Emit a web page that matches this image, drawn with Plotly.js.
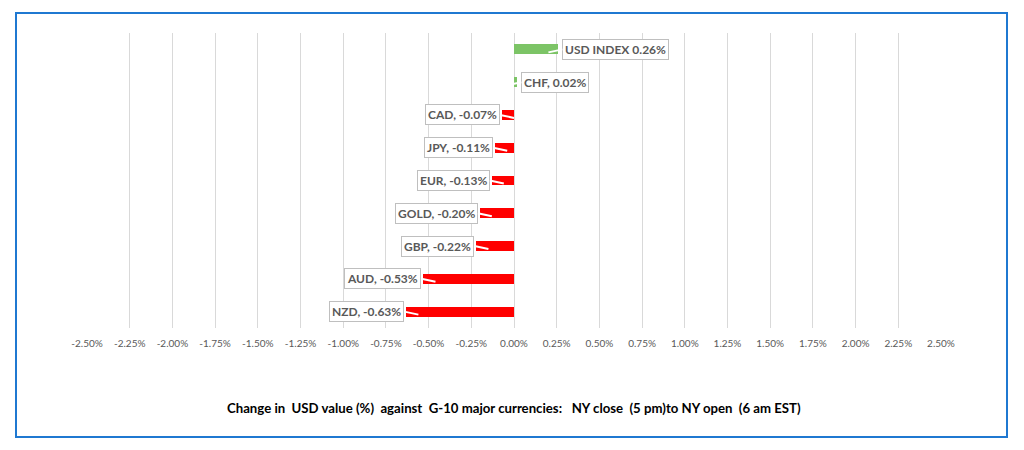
<!DOCTYPE html>
<html>
<head>
<meta charset="utf-8">
<script src="https://cdn.plot.ly/plotly-3.0.1.min.js"></script>
<style>
  html, body { margin: 0; padding: 0; background: #ffffff; }
  #wrap { position: relative; width: 1024px; height: 450px; }
  #chart { position: absolute; left: 0; top: 0; width: 1024px; height: 450px; }
  #frame { position: absolute; left: 15px; top: 12px; width: 989px; height: 422px;
           border: 2px solid #1f78d1; pointer-events: none; }
</style>
</head>
<body>
<div id="wrap">
  <div id="chart"></div>
  <div id="frame"></div>
</div>
<script>
// Data (values in %)
const categories = ["USD INDEX", "CHF", "CAD", "JPY", "EUR", "GOLD", "GBP", "AUD", "NZD"];
const changes = [0.26, 0.02, -0.07, -0.11, -0.13, -0.20, -0.22, -0.53, -0.63];
const labelTexts = ["USD INDEX 0.26%", "CHF, 0.02%", "CAD, -0.07%", "JPY, -0.11%", "EUR, -0.13%",
                    "GOLD, -0.20%", "GBP, -0.22%", "AUD, -0.53%", "NZD, -0.63%"];
const tickValues = [-2.5, -2.25, -2.0, -1.75, -1.5, -1.25, -1.0, -0.75, -0.5, -0.25, 0, 0.25, 0.5, 0.75, 1.0, 1.25, 1.5, 1.75, 2.0, 2.25, 2.5];
const tickLabels = ["-2.50%", "-2.25%", "-2.00%", "-1.75%", "-1.50%", "-1.25%", "-1.00%", "-0.75%", "-0.50%", "-0.25%", "0.00%",
                    "0.25%", "0.50%", "0.75%", "1.00%", "1.25%", "1.50%", "1.75%", "2.00%", "2.25%", "2.50%"];
const chartTitle = "Change in\u00a0 USD value (%)\u00a0 against\u00a0 G-10 major currencies:\u00a0\u00a0 NY close\u00a0 (5 pm)to NY open\u00a0 (6 am EST)";

const POS = "#7cc466", NEG = "#ff0000";
const barColors = changes.map(v => v >= 0 ? POS : NEG);

const trace = {
  type: "bar",
  orientation: "h",
  x: changes,
  y: categories,
  width: 0.3,
  marker: { color: barColors, line: { width: 0 } },
  hoverinfo: "skip"
};

const labelFont = { family: "Lato, 'Liberation Sans', sans-serif", size: 12, color: "#595959", weight: 700 };

const annotations = changes.map((v, i) => {
  const neg = v < 0;
  return {
    x: v, y: categories[i], xref: "x", yref: "y",
    text: "<b>" + labelTexts[i] + "</b>",
    font: labelFont,
    showarrow: true,
    arrowhead: 0,
    arrowwidth: 2,
    arrowcolor: "#ffffff",
    ax: neg ? -14 : 14,
    ay: -3,
    xshift: neg ? 12 : -10,
    yshift: -3,
    xanchor: neg ? "right" : "left",
    yanchor: "middle",
    bgcolor: "#ffffff",
    bordercolor: "#bfbfbf",
    borderwidth: 1,
    borderpad: 2
  };
});

annotations.push({
  xref: "paper", yref: "paper",
  x: 0.5, y: -0.27,
  xanchor: "center", yanchor: "middle",
  showarrow: false,
  text: chartTitle,
  font: { family: "Lato, 'Liberation Sans', sans-serif", size: 13.2, color: "#000000", weight: 700 }
});

const layout = {
  width: 1024, height: 450,
  margin: { l: 87, r: 83, t: 33, b: 122 },
  paper_bgcolor: "#ffffff",
  plot_bgcolor: "#ffffff",
  showlegend: false,
  bargap: 0,
  xaxis: {
    range: [-2.5, 2.5],
    tickmode: "array",
    tickvals: tickValues,
    ticktext: tickLabels,
    showgrid: true,
    gridcolor: "#d9d9d9",
    gridwidth: 1,
    zeroline: false,
    showline: false,
    ticks: "",
    ticklabelstandoff: 8,
    tickfont: { family: "Lato, 'Liberation Sans', sans-serif", size: 10, color: "#595959" },
    fixedrange: true
  },
  yaxis: {
    type: "category",
    categoryorder: "array",
    categoryarray: categories,
    autorange: "reversed",
    showticklabels: false,
    showgrid: false,
    zeroline: false,
    showline: false,
    ticks: "",
    fixedrange: true
  },
  annotations: annotations
};

Plotly.newPlot("chart", [trace], layout, { displayModeBar: false, staticPlot: true });
</script>
</body>
</html>
